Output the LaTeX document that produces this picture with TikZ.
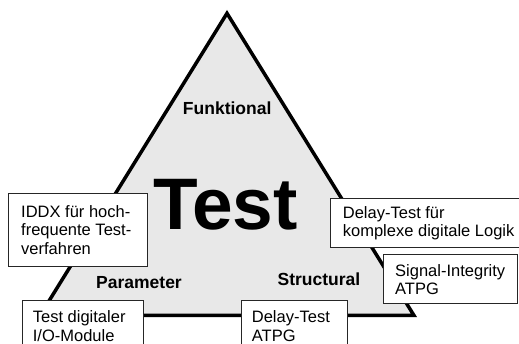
\documentclass[tikz,border=0pt]{standalone}
\usepackage{fontspec}
\setmainfont{Liberation Sans}
\definecolor{trifill}{HTML}{E8E8E8}
\tikzset{
  box/.style={draw=black!85, line width=1pt, fill=white, anchor=north west, inner sep=0pt},
  boxtext/.style={anchor=west, align=left, inner sep=0pt, font=\fontsize{16.5}{18.3}\selectfont},
  lbl/.style={anchor=base, inner sep=0pt, font=\bfseries\fontsize{17.5}{20}\selectfont},
}
\begin{document}
\begin{tikzpicture}[x=1pt,y=-1pt]
\useasboundingbox (0,0) rectangle (519,344);
\clip (0,0) rectangle (519,344);
\coordinate (A) at (227,13.3);
\coordinate (B) at (40,315.5);
\coordinate (C) at (414,315.5);
\draw[line width=3.5pt, fill=trifill, miter limit=10] (A) -- (B) -- (C) -- cycle;
\node[lbl] (funk) at (227.2,115) {Funktional};
\node[lbl] (param) at (139,288.7) {Parameter};
\node[lbl] (struct) at (319,286) {Structural};
\node[anchor=base, inner sep=0pt, font=\bfseries\fontsize{73}{80}\selectfont] (test) at (225.5,230) {Test};
% boxes
\node[box, minimum width=138.4pt, minimum height=72.4pt] (iddx) at (8.3,193.3) {};
\node[boxtext] (iddxt) at ([xshift=12.7pt]iddx.west) {IDDX für hoch-\\frequente Test-\\verfahren};
\node[box, minimum width=121.6pt, minimum height=51pt] (tdig) at (21.7,300) {};
\node[boxtext] (tdigt) at ([xshift=11pt]tdig.west) {Test digitaler\\I/O-Module};
\node[box, minimum width=106pt, minimum height=51pt] (dtatpg) at (240.7,300) {};
\node[boxtext] (dtatpgt) at ([xshift=11pt]dtatpg.west) {Delay-Test\\ATPG};
\node[box, minimum width=200pt, minimum height=48.4pt] (dtk) at (330,198.3) {};
\node[boxtext] (dtkt) at ([xshift=12.7pt]dtk.west) {Delay-Test für\\komplexe digitale Logik};
\node[box, minimum width=134pt, minimum height=49pt] (sig) at (382.7,254.3) {};
\node[boxtext] (sigt) at ([xshift=12.3pt]sig.west) {Signal-Integrity\\ATPG};
\end{tikzpicture}
\end{document}
